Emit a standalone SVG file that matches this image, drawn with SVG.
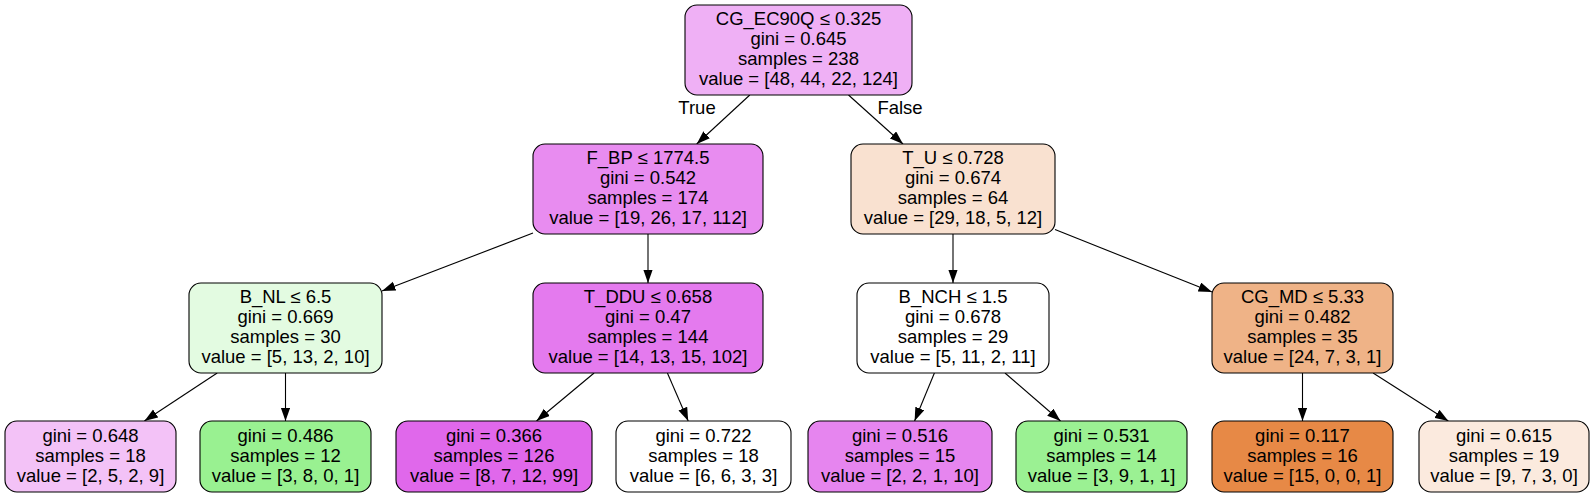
<svg xmlns="http://www.w3.org/2000/svg" width="1595" height="497" viewBox="0 0 1595 497">
<style>
.n rect{stroke:#000;stroke-width:1.1}
text{font-family:"Liberation Sans",Arial,sans-serif;font-size:18.5px;fill:#000;text-anchor:middle}
.e line{stroke:#000;stroke-width:1.1;fill:none;marker-end:url(#ah)}
</style>
<defs>
<marker id="ah" markerUnits="userSpaceOnUse" markerWidth="14" markerHeight="10" refX="13.5" refY="4.75" orient="auto">
<path d="M0,0 L13.5,4.75 L0,9.5 z" fill="#000"/>
</marker>
</defs>
<rect width="1595" height="497" fill="#fff"/>
<g id="connectors" class="e">
<line x1="749.8" y1="95" x2="696.7" y2="144"/>
<line x1="848.5" y1="95" x2="903" y2="144"/>
<line x1="533" y1="233.1" x2="382" y2="291"/>
<line x1="648" y1="234" x2="648" y2="283"/>
<line x1="953" y1="234" x2="953" y2="283"/>
<line x1="1055" y1="229.6" x2="1212" y2="292"/>
<line x1="217.2" y1="373" x2="144.4" y2="421"/>
<line x1="285.5" y1="373" x2="285.5" y2="421"/>
<line x1="594.1" y1="373" x2="536.5" y2="421"/>
<line x1="667.4" y1="373" x2="688.2" y2="421"/>
<line x1="934.4" y1="373" x2="914.6" y2="421"/>
<line x1="1005" y1="373" x2="1060.5" y2="421"/>
<line x1="1302.5" y1="373" x2="1302.5" y2="421"/>
<line x1="1373.1" y1="373" x2="1448.3" y2="421"/>
<text x="697" y="114">True</text>
<text x="900" y="114">False</text>
</g>
<g id="n0" class="n"><rect x="685" y="5" width="227" height="90" rx="12" fill="#efb0f5"/>
<text x="798.5" y="25">CG_EC90Q ≤ 0.325</text><text x="798.5" y="45">gini = 0.645</text><text x="798.5" y="65">samples = 238</text><text x="798.5" y="85">value = [48, 44, 22, 124]</text></g>
<g id="n1" class="n"><rect x="533" y="144" width="230" height="90" rx="12" fill="#e88cf0"/>
<text x="648" y="164">F_BP ≤ 1774.5</text><text x="648" y="184">gini = 0.542</text><text x="648" y="204">samples = 174</text><text x="648" y="224">value = [19, 26, 17, 112]</text></g>
<g id="n8" class="n"><rect x="851" y="144" width="204" height="90" rx="12" fill="#f9e1d0"/>
<text x="953" y="164">T_U ≤ 0.728</text><text x="953" y="184">gini = 0.674</text><text x="953" y="204">samples = 64</text><text x="953" y="224">value = [29, 18, 5, 12]</text></g>
<g id="n2" class="n"><rect x="189" y="283" width="193" height="90" rx="12" fill="#e3fbe1"/>
<text x="285.5" y="303">B_NL ≤ 6.5</text><text x="285.5" y="323">gini = 0.669</text><text x="285.5" y="343">samples = 30</text><text x="285.5" y="363">value = [5, 13, 2, 10]</text></g>
<g id="n5" class="n"><rect x="533" y="283" width="230" height="90" rx="12" fill="#e47aee"/>
<text x="648" y="303">T_DDU ≤ 0.658</text><text x="648" y="323">gini = 0.47</text><text x="648" y="343">samples = 144</text><text x="648" y="363">value = [14, 13, 15, 102]</text></g>
<g id="n9" class="n"><rect x="857" y="283" width="192" height="90" rx="12" fill="#ffffff"/>
<text x="953" y="303">B_NCH ≤ 1.5</text><text x="953" y="323">gini = 0.678</text><text x="953" y="343">samples = 29</text><text x="953" y="363">value = [5, 11, 2, 11]</text></g>
<g id="n12" class="n"><rect x="1212" y="283" width="181" height="90" rx="12" fill="#efb387"/>
<text x="1302.5" y="303">CG_MD ≤ 5.33</text><text x="1302.5" y="323">gini = 0.482</text><text x="1302.5" y="343">samples = 35</text><text x="1302.5" y="363">value = [24, 7, 3, 1]</text></g>
<g id="n3" class="n"><rect x="5" y="421" width="171" height="71" rx="12" fill="#f3c2f7"/>
<text x="90.5" y="441.5">gini = 0.648</text><text x="90.5" y="461.5">samples = 18</text><text x="90.5" y="481.5">value = [2, 5, 2, 9]</text></g>
<g id="n4" class="n"><rect x="200" y="421" width="171" height="71" rx="12" fill="#99f191"/>
<text x="285.5" y="441.5">gini = 0.486</text><text x="285.5" y="461.5">samples = 12</text><text x="285.5" y="481.5">value = [3, 8, 0, 1]</text></g>
<g id="n6" class="n"><rect x="396" y="421" width="196" height="71" rx="12" fill="#e068eb"/>
<text x="494" y="441.5">gini = 0.366</text><text x="494" y="461.5">samples = 126</text><text x="494" y="481.5">value = [8, 7, 12, 99]</text></g>
<g id="n7" class="n"><rect x="616" y="421" width="175" height="71" rx="12" fill="#ffffff"/>
<text x="703.5" y="441.5">gini = 0.722</text><text x="703.5" y="461.5">samples = 18</text><text x="703.5" y="481.5">value = [6, 6, 3, 3]</text></g>
<g id="n10" class="n"><rect x="808" y="421" width="184" height="71" rx="12" fill="#e685ef"/>
<text x="900" y="441.5">gini = 0.516</text><text x="900" y="461.5">samples = 15</text><text x="900" y="481.5">value = [2, 2, 1, 10]</text></g>
<g id="n11" class="n"><rect x="1016" y="421" width="171" height="71" rx="12" fill="#9bf193"/>
<text x="1101.5" y="441.5">gini = 0.531</text><text x="1101.5" y="461.5">samples = 14</text><text x="1101.5" y="481.5">value = [3, 9, 1, 1]</text></g>
<g id="n13" class="n"><rect x="1212" y="421" width="181" height="71" rx="12" fill="#e78946"/>
<text x="1302.5" y="441.5">gini = 0.117</text><text x="1302.5" y="461.5">samples = 16</text><text x="1302.5" y="481.5">value = [15, 0, 0, 1]</text></g>
<g id="n14" class="n"><rect x="1419" y="421" width="170" height="71" rx="12" fill="#fbeade"/>
<text x="1504" y="441.5">gini = 0.615</text><text x="1504" y="461.5">samples = 19</text><text x="1504" y="481.5">value = [9, 7, 3, 0]</text></g>
</svg>
